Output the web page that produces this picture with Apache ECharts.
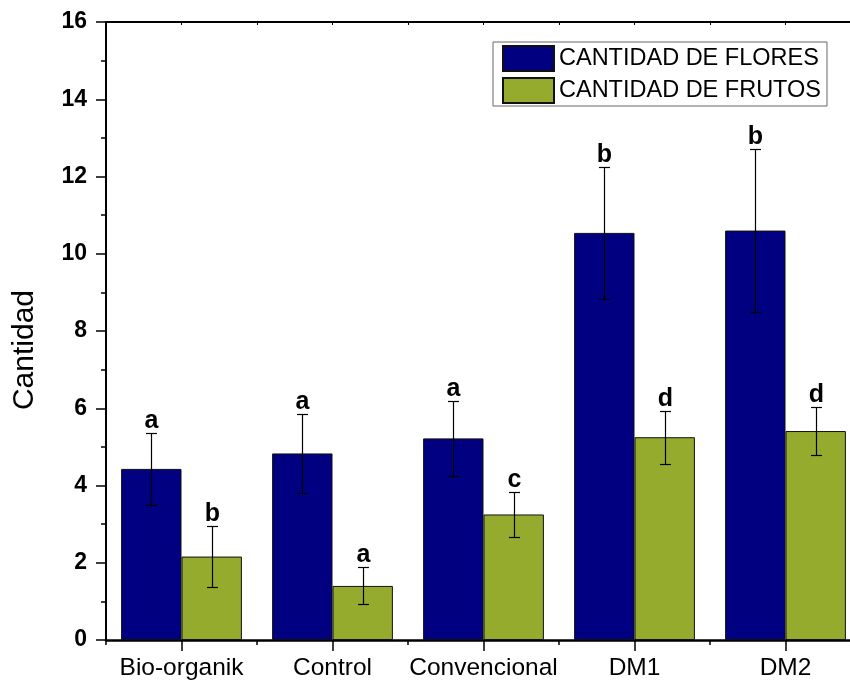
<!DOCTYPE html>
<html>
<head>
<meta charset="utf-8">
<style>html,body{margin:0;padding:0;background:#fff;}#c{width:850px;height:683px;}</style>
<script src="https://cdn.jsdelivr.net/npm/echarts@6/dist/echarts.min.js"></script>
</head>
<body>
<div id="c"></div>
<script>
const categories = ['Bio-organik', 'Control', 'Convencional', 'DM1', 'DM2'];
const flores = [4.43, 4.83, 5.22, 10.54, 10.60];
const floresErr = [0.93, 1.02, 0.97, 1.71, 2.12];
const floresLetters = ['a', 'a', 'a', 'b', 'b'];
const frutos = [2.16, 1.40, 3.25, 5.25, 5.41];
const frutosErr = [0.79, 0.48, 0.58, 0.69, 0.63];
const frutosLetters = ['b', 'a', 'c', 'd', 'd'];
const yTicks = [0, 2, 4, 6, 8, 10, 12, 14, 16];

const FONT = '"Liberation Sans", Arial, Helvetica, sans-serif';
const chart = echarts.init(document.getElementById('c'), null, {renderer: 'canvas'});

function errSeries(name, values, errs, letters, side) {
  return {
    type: 'custom',
    name: name,
    xAxisIndex: 0,
    yAxisIndex: 0,
    z: 10,
    silent: true,
    data: values.map((v, i) => [i, v, errs[i]]),
    renderItem: function (params, api) {
      const i = api.value(0), v = api.value(1), e = api.value(2);
      const c = api.coord([i, v]);
      const bw = api.size([1, 0])[0];
      const x = Math.round(c[0] + side * bw * 0.8 / 4) + 0.5;
      const top = Math.round(api.coord([i, v + e])[1]) + 0.5;
      const bot = Math.round(api.coord([i, v - e])[1]) + 0.5;
      const hw = 5.5;
      const ls = {stroke: '#000', lineWidth: 1.2};
      return {
        type: 'group',
        children: [
          {type: 'line', shape: {x1: x, y1: top, x2: x, y2: bot}, style: ls},
          {type: 'line', shape: {x1: x - hw, y1: top, x2: x + hw, y2: top}, style: ls},
          {type: 'line', shape: {x1: x - hw, y1: bot, x2: x + hw, y2: bot}, style: ls},
          {type: 'text', style: {text: letters[params.dataIndex], x: x, y: top,
            textAlign: 'center', textVerticalAlign: 'bottom',
            font: 'bold 25px ' + FONT, fill: '#000'}}
        ]
      };
    }
  };
}

const option = {
  animation: false,
  backgroundColor: '#fff',
  textStyle: {fontFamily: FONT, color: '#000'},
  grid: {left: 106, width: 755, top: 22, bottom: 43, containLabel: false, outerBoundsMode: 'none'},
  legend: {
    orient: 'vertical',
    left: 493, top: 42,
    itemWidth: 51, itemHeight: 25, itemGap: 5,
    padding: [3, 6, 2, 9],
    borderColor: '#666', borderWidth: 1,
    icon: 'rect',
    textStyle: {fontSize: 23.5, fontFamily: FONT, color: '#000'},
    data: ['CANTIDAD DE FLORES', 'CANTIDAD DE FRUTOS']
  },
  xAxis: [
    {
      type: 'category', data: categories, position: 'bottom',
      axisLine: {show: true, lineStyle: {color: '#000', width: 2.5}},
      axisTick: {show: true, alignWithLabel: true, length: 11, lineStyle: {color: '#000', width: 1.5}},
      axisLabel: {interval: 0, fontSize: 24.5, fontFamily: FONT, color: '#000', margin: 16},
      splitLine: {show: false}
    },
    {
      type: 'category', data: categories, position: 'bottom',
      axisLine: {show: false},
      axisTick: {show: true, length: 5, lineStyle: {color: '#000', width: 1.5}},
      axisLabel: {show: false}, splitLine: {show: false}
    },
    {
      type: 'category', data: categories, position: 'top',
      axisLine: {show: true, lineStyle: {color: '#000', width: 2}},
      axisTick: {show: true, inside: true, length: 3, lineStyle: {color: '#000', width: 1}},
      axisLabel: {show: false}, splitLine: {show: false}
    },
    {
      type: 'category', data: categories, position: 'top',
      axisLine: {show: false},
      axisTick: {show: true, inside: true, alignWithLabel: true, length: 3, lineStyle: {color: '#000', width: 1}},
      axisLabel: {show: false}, splitLine: {show: false}
    }
  ],
  yAxis: {
    type: 'value', min: yTicks[0], max: yTicks[yTicks.length - 1], interval: 2,
    name: 'Cantidad', nameLocation: 'middle', nameGap: 66,
    nameTextStyle: {fontSize: 30, fontFamily: FONT, color: '#000', padding: [0, 38, 0, 0]},
    axisLine: {show: true, lineStyle: {color: '#000', width: 2}},
    axisTick: {show: true, length: 10, lineStyle: {color: '#000', width: 1.5}},
    minorTick: {show: true, splitNumber: 2, length: 5, lineStyle: {color: '#000', width: 1.5}},
    axisLabel: {fontSize: 23, fontWeight: 'bold', fontFamily: FONT, color: '#000', margin: 19},
    splitLine: {show: false}
  },
  series: [
    {
      type: 'bar', name: 'CANTIDAD DE FLORES', data: flores,
      barGap: '0%', barCategoryGap: '20%',
      itemStyle: {color: '#000080', borderColor: '#111', borderWidth: 1}
    },
    {
      type: 'bar', name: 'CANTIDAD DE FRUTOS', data: frutos,
      barGap: '0%', barCategoryGap: '20%',
      itemStyle: {color: '#95AB2E', borderColor: '#111', borderWidth: 1}
    },
    errSeries('errFlores', flores, floresErr, floresLetters, -1),
    errSeries('errFrutos', frutos, frutosErr, frutosLetters, 1)
  ]
};
chart.setOption(option);
</script>
</body>
</html>
